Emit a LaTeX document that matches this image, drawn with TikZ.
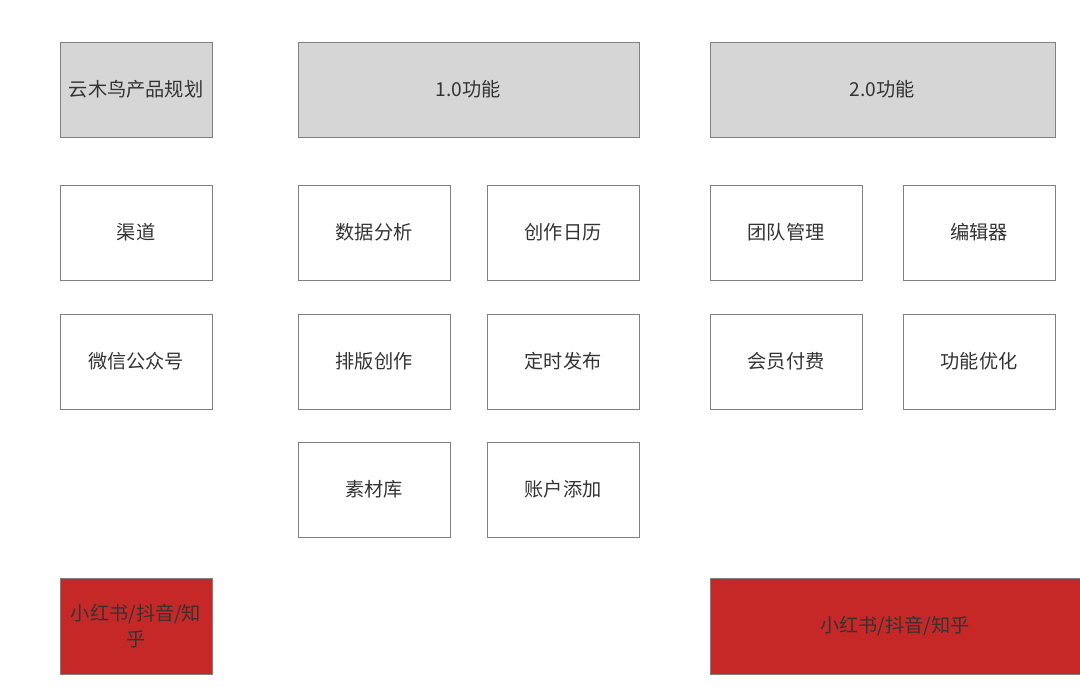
\documentclass[tikz,border=0pt]{standalone}
\usepackage{fontspec}
\setmainfont{Noto Sans CJK SC}
\usetikzlibrary{positioning}
\definecolor{boxline}{HTML}{808080}
\definecolor{headfill}{HTML}{D6D6D6}
\definecolor{hotred}{HTML}{C62828}
\definecolor{labeltext}{HTML}{333333}
\tikzset{card/.style = {draw=boxline, line width=0.65pt, inner sep=0pt,
                        minimum width=114pt, minimum height=71.25pt,
                        font=\fontsize{14.4}{20}\selectfont, text=labeltext,
                        align=center},
         headcard/.style = {card, fill=headfill},
         hotcard/.style = {card, fill=hotred, minimum height=72pt, text=black!80}}

\begin{document}
\begin{tikzpicture}[x=0.75pt, y=-0.75pt]
      \useasboundingbox (0, 0) rectangle (1080, 690);

      % top row
      \node [headcard] (plan) at (136, 89.5) {云木鸟产品规划};
      \node [headcard, minimum width=255.75pt] (v1) at (468.5, 89.5) {1.0功能};
      \node [headcard, minimum width=258.75pt] (v2) at (882.5, 89.5) {2.0功能};

      % channels
      \node [card] (channel) at (136, 232.5) {渠道};
      \node [card] (wechat) at (136, 361.5) {微信公众号};

      % 1.0
      \node [card] (analysis) at (374, 232.5) {数据分析};
      \node [card] (calendar) at (563, 232.5) {创作日历};
      \node [card] (layout) at (374, 361.5) {排版创作};
      \node [card] (timer) at (563, 361.5) {定时发布};
      \node [card] (assets) at (374, 489.5) {素材库};
      \node [card] (account) at (563, 489.5) {账户添加};

      % 2.0
      \node [card] (team) at (786, 232.5) {团队管理};
      \node [card] (editor) at (979, 232.5) {编辑器};
      \node [card] (member) at (786, 361.5) {会员付费};
      \node [card] (tuning) at (979, 361.5) {功能优化};

      % bottom row
      \node [hotcard] (hotleft) at (136, 626) {小红书/抖音/知\\乎};
      \node [hotcard, minimum width=277.5pt] (hotright) at (895, 626) {小红书/抖音/知乎};
    \end{tikzpicture}
\end{document}
